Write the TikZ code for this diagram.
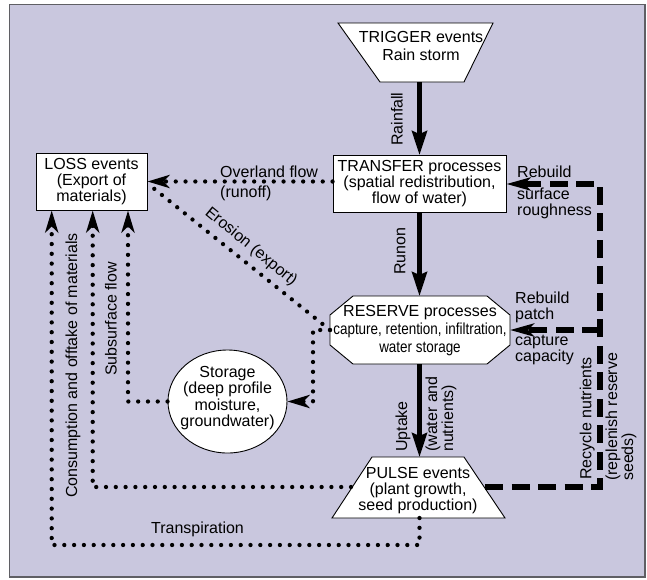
\documentclass[tikz,border=0pt]{standalone}
\usepackage{fontspec}
\setmainfont{Liberation Sans}
\newfontfamily\narrowfont[FakeStretch=0.84]{Liberation Sans}
\usetikzlibrary{arrows.meta,shapes.geometric}
\definecolor{bg}{RGB}{201,199,222}
\definecolor{framecol}{RGB}{95,95,100}
\begin{document}
\begin{tikzpicture}[x=1pt,y=-1pt,
  txt/.style={font=\fontsize{16}{16}\selectfont, inner sep=0pt, align=center},
  box/.style={draw=black, line width=0.9pt, fill=white},
  dotline/.style={line width=4.3pt, line cap=round, dash pattern=on 0pt off 9.8pt},
  dashline/.style={line width=5.5pt, dash pattern=on 18pt off 8.5pt},
  heavy/.style={line width=4.5pt, -{Stealth[length=24pt,width=15pt,inset=3pt]}},
  dottip/.style={-{Stealth[length=22pt,width=13pt,inset=6pt]}},
  dashtip/.style={-{Stealth[length=24pt,width=13pt,inset=6pt]}}
]
\useasboundingbox (0,0) rectangle (647,579);
\fill[white] (0,0) rectangle (647,579);
\draw[framecol, line width=1.4pt, fill=bg] (9.5,4.5) rectangle (645,577);

% shapes
\draw[box] (338,23) -- (493,23) -- (464,82) -- (380,82) -- cycle;
\node[txt, font=\fontsize{16}{18.5}\selectfont] (trigger) at (421,46) {TRIGGER events\\Rain storm};

\node[box, txt, minimum width=173pt, minimum height=57pt] (transfer) at (419.5,184) {TRANSFER processes\\(spatial redistribution,\\flow of water)};

\node[box, txt, minimum width=111pt, minimum height=57pt] (loss) at (91.5,181.5) {LOSS events\\(Export of\\materials)};

\draw[box] (353,296) -- (487,296) -- (510,315) -- (510,345) -- (487,364) -- (353,364) -- (330,345) -- (330,315) -- cycle;
\node[txt, font=\fontsize{16}{18}\selectfont] (reserve) at (420,331) {RESERVE processes\\{\narrowfont capture, retention, infiltration,}\\{\narrowfont water storage}};

\node[box, ellipse, inner sep=0pt, minimum width=119pt, minimum height=103pt] (storage) at (227.5,401.5) {};
\node[txt, font=\fontsize{16}{16.4}\selectfont] (storagetxt) at (227.5,398) {Storage\\(deep profile\\moisture,\\groundwater)};

\draw[box] (372,457) -- (464,457) -- (505,518) -- (332,518) -- cycle;
\node[txt] (pulse) at (418,491) {PULSE events\\(plant growth,\\seed production)};

% anchor coordinates
\coordinate (trigS) at (419.5,82);
\coordinate (resN) at (419.5,296);
\coordinate (resS) at (419.5,364);
\coordinate (resW) at (330,330);
\coordinate (resE) at (510,330);
\coordinate (pulN) at (419.5,457);
\coordinate (pulS) at (419.5,518);
\coordinate (pulW) at (351,487);
\coordinate (pulE) at (485,487);
\coordinate (eroEnd) at (152,187);
\coordinate (tcorner) at (419.5,545);
\coordinate (dcT) at (600,184);
\coordinate (dcM) at (600,330);

% solid arrows
\draw[heavy] (trigS) -- (trigS |- transfer.north);
\draw[heavy] (transfer.south) -- (resN);
\draw[heavy] (resS) -- (pulN);

% dotted connectors
\draw[dotline, dottip] (transfer.west |- loss.east) -- (loss.east);
\draw[dotline] (resW) -- (eroEnd);
\draw[dotline, dottip] (resW) -- ++(-17,0) |- (storage.east);
\draw[dotline, dottip] (storage.west) -| ([xshift=36.5pt]loss.south);
\draw[dotline, dottip] (pulW) -| ([xshift=1.2pt]loss.south);
\draw[dotline, dottip] (pulS) -- (tcorner) -| ([xshift=-39.8pt]loss.south);

% dashed connectors
\draw[dashline, dashtip] (pulE) -| (dcT) -- (transfer.east);
\draw[dashline, dashtip] (dcM) -- (resE);

% labels
\node[txt, rotate=90, anchor=west] (lrain) at (397,146) {Rainfall};
\node[txt, rotate=90, anchor=west] (lrunon) at (400,275) {Runon};
\node[txt, rotate=90, anchor=west] (lup) at (403,452) {Uptake};
\node[txt, rotate=90, anchor=west, align=left] (lwater) at (441,452) {(water and\\nutrients)};
\node[txt, anchor=west] (lover) at (220,172) {Overland flow};
\node[txt, anchor=west] (lrunoff) at (220,193) {(runoff)};
\node[txt, rotate=-39.4] (lero) at (251,247) {Erosion (export)};
\node[txt, rotate=90, anchor=west] (lsub) at (111,376) {Subsurface flow};
\node[txt, rotate=90, anchor=west] (lcons) at (73,498) {Consumption and offtake of materials};
\node[txt] (ltrans) at (197.5,529) {Transpiration};
\node[txt, anchor=west] (lreb1) at (517,172) {Rebuild};
\node[txt, anchor=west, align=left] (lreb2) at (517,203.5) {surface\\roughness};
\node[txt, anchor=west, align=left] (lreb3) at (515,307) {Rebuild\\patch};
\node[txt, anchor=west, align=left] (lcap) at (515,350) {capture\\capacity};
\node[txt, rotate=90, anchor=west] (lrec) at (587.3,480) {Recycle nutrients};
\node[txt, rotate=90, anchor=west, align=left] (lrepl) at (621,481) {(replenish reserve\\seeds)};
\end{tikzpicture}
\end{document}
